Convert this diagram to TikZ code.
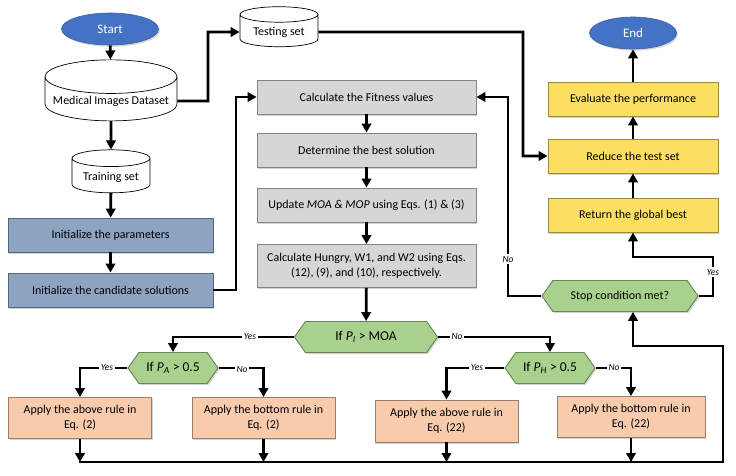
\documentclass[tikz,border=0pt]{standalone}
\usepackage{fontspec}
\setmainfont{Carlito}
\usetikzlibrary{shapes.geometric,shapes.symbols,arrows.meta,shadows,calc}
\definecolor{grayf}{RGB}{214,214,214}
\definecolor{bluef}{RGB}{141,163,194}
\definecolor{yelf}{RGB}{252,222,96}
\definecolor{greenf}{RGB}{169,209,142}
\definecolor{peachf}{RGB}{248,203,173}
\definecolor{termf}{RGB}{68,114,196}
\tikzset{
  shd/.style={drop shadow={shadow xshift=1.3pt,shadow yshift=-1.6pt,opacity=0.35}},
  boxbase/.style={rectangle, draw=#1!62!black, fill=#1, line width=0.9pt, shd, align=center,
    inner sep=2pt, font=\fontsize{12}{14.5}\selectfont},
  gbox/.style={boxbase=grayf, minimum width=219pt, minimum height=34pt},
  bbox/.style={boxbase=bluef, minimum width=205pt, minimum height=34pt},
  ybox/.style={boxbase=yelf, minimum width=170pt, minimum height=34pt},
  pbox/.style={boxbase=peachf, minimum width=143pt, minimum height=41pt},
  hex/.style={signal, signal to=east and west, signal pointer angle=110, fill=greenf,
    draw=greenf!62!black, line width=0.9pt, shd, minimum height=31pt, inner sep=2pt,
    font=\fontsize{13.5}{15}\selectfont},
  term/.style={ellipse, fill=termf, draw=termf!85!black, line width=0.6pt, text=white, shd,
    minimum width=97pt, minimum height=32pt, inner sep=1pt, font=\fontsize{13}{15}\selectfont},
  db/.style={cylinder, shape border rotate=90, aspect=0.28, draw, fill=white, line width=0.7pt,
    inner sep=2pt, font=\fontsize{12}{14}\selectfont},
  ln/.style={line width=2.8pt},
  arr/.style={ln, -{Triangle[length=9pt,width=9.5pt]}},
  lbl/.style={font=\fontsize{9.5}{11}\selectfont\itshape, fill=white, inner sep=1.5pt},
}
\begin{document}
\begin{tikzpicture}[x=1pt,y=-1pt]
\useasboundingbox (0,0) rectangle (736,476);
% nodes
\node[term] (start) at (110,29) {Start};
\node[db, minimum width=132pt, minimum height=58pt] (med) at (111,101) {Medical Images Dataset};
\node[db, minimum width=78pt, minimum height=40pt] (test) at (279,32) {Testing set};
\node[db, minimum width=78pt, minimum height=43pt] (train) at (111,177) {Training set};
\node[bbox] (ipar) at (110.5,235) {Initialize the parameters};
\node[bbox] (icand) at (110.5,290) {Initialize the candidate solutions};
\node[gbox] (fit) at (366.5,97) {Calculate the Fitness values};
\node[gbox] (best) at (366.5,150) {Determine the best solution};
\node[gbox] (upd) at (366.5,205) {Update \textit{MOA \& MOP} using Eqs. (1) \& (3)};
\node[gbox, minimum height=43pt] (hung) at (366.5,266) {Calculate Hungry, W1, and W2 using Eqs.\\(12), (9), and (10), respectively.};
\node[hex, minimum width=143pt] (pI) at (366,337) {If \textit{P}\textsubscript{\textit{I}} > MOA};
\node[hex, minimum width=90pt] (pA) at (173,368) {If \textit{P}\textsubscript{\textit{A}} > 0.5};
\node[hex, minimum width=90pt] (pH) at (550,368) {If \textit{P}\textsubscript{\textit{H}} > 0.5};
\node[pbox] (a2) at (80,418) {Apply the above rule in\\Eq. (2)};
\node[pbox] (b2) at (263.5,418) {Apply the bottom rule in\\Eq. (2)};
\node[pbox, minimum height=42pt] (a22) at (446.5,421) {Apply the above rule in\\Eq. (22)};
\node[pbox, minimum width=148pt] (b22) at (631,417) {Apply the bottom rule in\\Eq. (22)};
\node[hex, minimum width=156pt, font=\fontsize{12}{14}\selectfont] (stop) at (620,296) {Stop condition met?};
\node[ybox] (ret) at (633,215) {Return the global best};
\node[ybox] (red) at (633,156) {Reduce the test set};
\node[ybox] (eva) at (633,99) {Evaluate the performance};
\node[term, minimum width=87pt] (endn) at (633,33) {End};
% helper coordinates
\coordinate (mt) at (208,101);
\coordinate (tr) at (523,32);
\coordinate (cf) at (236,290);
\coordinate (bl) at (79,462);
\coordinate (br) at (723,462);
\coordinate (bk) at (723,346);
\coordinate (sb) at (ret.center |- stop.south);
\coordinate (ry) at (713,257);
\coordinate (nx) at (508,296);
% connectors
\draw[arr] (start) -- (med);
\draw[arr] (med) -- (train);
\draw[arr] (train) -- (ipar);
\draw[arr] (ipar) -- (icand);
\draw[arr] (med.east) -- (mt) |- (test.west);
\draw[arr] (test.east) -- (tr) |- (red.west);
\draw[arr] (icand.east) -- (cf) |- (fit.west);
\draw[arr] (fit) -- (best);
\draw[arr] (best) -- (upd);
\draw[arr] (upd) -- (hung);
\draw[arr] (hung) -- (pI);
\draw[arr] (pI.west) -| (pA.north);
\draw[arr] (pI.east) -| (pH.north);
\draw[arr] (pA.west) -| (a2.north);
\draw[arr] (pA.east) -| (b2.north);
\draw[arr] (pH.west) -| (a22.north);
\draw[arr] (pH.east) -| (b22.north);
\draw[arr] (a2.south) -- (a2.south |- bl);
\draw[arr] (b2.south) -- (b2.south |- bl);
\draw[arr] (a22.south) -- (a22.south |- bl);
\draw[arr] (b22.south) -- (b22.south |- bl);
\draw[arr] (bl) -- (br) -- (bk) -| (sb);
\draw[arr] (stop.west) -- (nx) |- (fit.east);
\draw[arr] (stop.east) -| (ry) -| (ret.south);
\draw[arr] (ret) -- (red);
\draw[arr] (red) -- (eva);
\draw[arr] (eva) -- (endn);
% labels
\node[lbl] (l1) at (250,336) {Yes};
\node[lbl] (l2) at (457,336) {No};
\node[lbl] (l3) at (107,367) {Yes};
\node[lbl] (l4) at (242,369) {No};
\node[lbl] (l5) at (477,367) {Yes};
\node[lbl] (l6) at (614,367) {No};
\node[lbl] (l7) at (508,259) {No};
\node[lbl] (l8) at (713,272) {Yes};
\end{tikzpicture}
\end{document}
